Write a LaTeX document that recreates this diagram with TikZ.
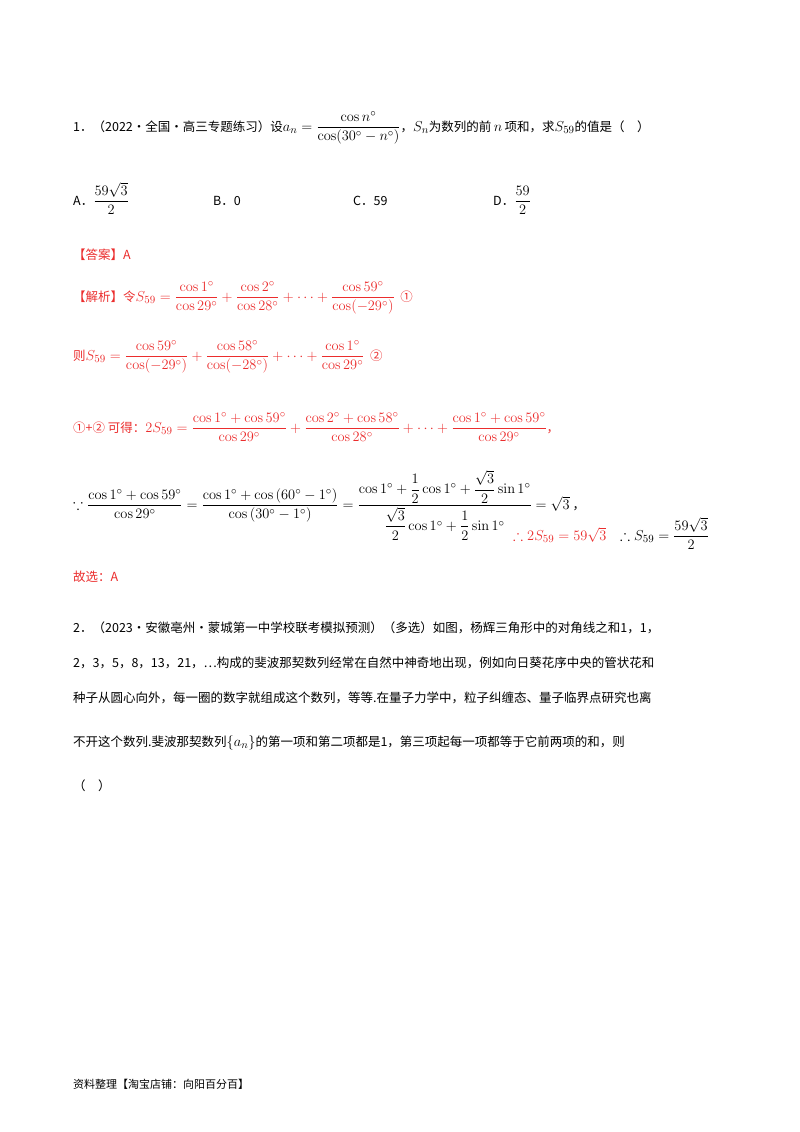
\documentclass[tikz,border=0pt]{standalone}
\usepackage{amsmath,amssymb}
\usepackage[no-math]{fontspec}
\setmainfont{Noto Sans CJK SC}
\DeclareMathSizes{12.5}{15}{11}{9}
\DeclareMathSizes{11}{11}{8}{6}
\definecolor{ans}{RGB}{235,45,45}
\tikzset{t/.style={anchor=base west,inner sep=0pt,font=\fontsize{12.5}{15}\selectfont},r/.style={t,text=ans}}
\begin{document}
\begin{tikzpicture}[x=1pt,y=-1pt]
\useasboundingbox (0,0) rectangle (800,1132);
\node[t] (q1) at (73,131) {1．（2022·全国·高三专题练习）设$a_n=\dfrac{\cos n^\circ}{\cos(30^\circ-n^\circ)}$，$S_n$为数列的前$\,n\,$项和，求$S_{59}$的值是（\quad）};
\node[t] (oa) at (73,205) {A．$\dfrac{59\sqrt3}{2}$};
\node[t] (ob) at (213,205) {B．0};
\node[t] (oc) at (353,205) {C．59};
\node[t] (od) at (493,205) {D．$\dfrac{59}{2}$};
\node[r] (da) at (73,259) {【答案】A};
\node[r] (j1) at (73,301) {【解析】令$S_{59}=\dfrac{\cos1^\circ}{\cos29^\circ}+\dfrac{\cos2^\circ}{\cos28^\circ}+\dots+\dfrac{\cos59^\circ}{\cos(-29^\circ)}$\ \ ①};
\node[r] (j2) at (73,360) {则$S_{59}=\dfrac{\cos59^\circ}{\cos(-29^\circ)}+\dfrac{\cos58^\circ}{\cos(-28^\circ)}+\dots+\dfrac{\cos1^\circ}{\cos29^\circ}$\ \ ②};
\node[r] (j3) at (73,432) {①+② 可得：$2S_{59}=\dfrac{\cos1^\circ+\cos59^\circ}{\cos29^\circ}+\dfrac{\cos2^\circ+\cos58^\circ}{\cos28^\circ}+\dots+\dfrac{\cos1^\circ+\cos59^\circ}{\cos29^\circ}$，};
\node[t] (j4) at (73,509) {$\because\dfrac{\cos1^\circ+\cos59^\circ}{\cos29^\circ}=\dfrac{\cos1^\circ+\cos\left(60^\circ-1^\circ\right)}{\cos\left(30^\circ-1^\circ\right)}=\dfrac{\cos1^\circ+\dfrac12\cos1^\circ+\dfrac{\sqrt3}{2}\sin1^\circ}{\dfrac{\sqrt3}{2}\cos1^\circ+\dfrac12\sin1^\circ}=\sqrt3$\ ，};
\node[r] (j5) at (513,540) {$\therefore2S_{59}=59\sqrt3$};
\node[t] (j6) at (620,540) {$\therefore S_{59}=\dfrac{59\sqrt3}{2}$};
\node[r] (gx) at (73,581) {故选：A};
\node[t] (p1) at (73,632) {2．（2023·安徽亳州·蒙城第一中学校联考模拟预测）（多选）如图，杨辉三角形中的对角线之和1，1，};
\node[t] (p2) at (73,667) {2，3，5，8，13，21，…构成的斐波那契数列经常在自然中神奇地出现，例如向日葵花序中央的管状花和};
\node[t] (p3) at (73,702) {种子从圆心向外，每一圈的数字就组成这个数列，等等.在量子力学中，粒子纠缠态、量子临界点研究也离};
\node[t] (p4) at (73,746) {不开这个数列.斐波那契数列$\left\{a_n\right\}$的第一项和第二项都是1，第三项起每一项都等于它前两项的和，则};
\node[t] (p5) at (73,790) {（\quad）};
\node[t,font=\fontsize{11}{13}\selectfont] (ft) at (73,1088) {资料整理【淘宝店铺：向阳百分百】};
\end{tikzpicture}
\end{document}
